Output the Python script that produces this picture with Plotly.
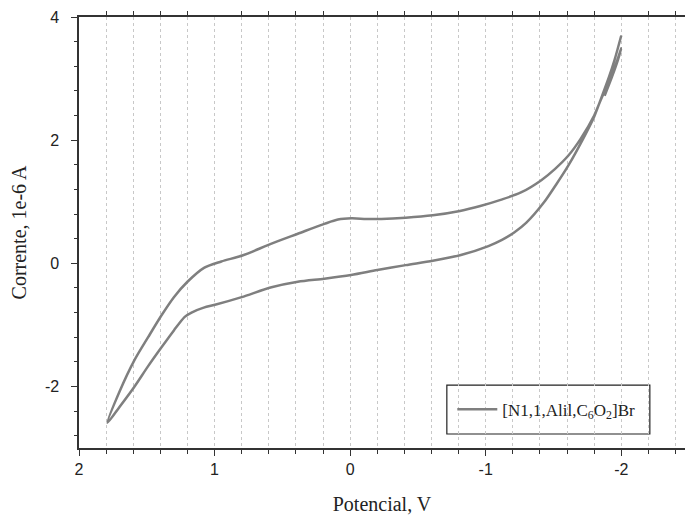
import numpy as np
import plotly.graph_objects as go

# Cyclic voltammogram data (potential V, current 1e-6 A)
stub_x = [-1.877, -1.93, -1.975, -2.0]
stub_y = [2.72, 3.02, 3.30, 3.49]

upper_x = [-1.95, -1.91, -1.85, -1.80, -1.70, -1.61, -1.51, -1.41, -1.26, -1.11, -0.96,
           -0.81, -0.61, -0.41, -0.23, -0.12, -0.01, 0.09, 0.19, 0.386, 0.58, 0.79, 0.95,
           1.075, 1.20, 1.30, 1.39, 1.49, 1.59, 1.70, 1.79]
upper_y = [3.17, 2.95, 2.66, 2.40, 2.02, 1.75, 1.53, 1.35, 1.15, 1.03, 0.93,
           0.85, 0.78, 0.74, 0.72, 0.72, 0.73, 0.71, 0.64, 0.48, 0.32, 0.13, 0.03,
           -0.07, -0.30, -0.55, -0.84, -1.20, -1.57, -2.08, -2.59]

lower_x = [1.70, 1.59, 1.49, 1.39, 1.30, 1.22, 1.17, 1.08, 0.99, 0.80, 0.58, 0.386, 0.19,
           -0.007, -0.20, -0.41, -0.61, -0.81, -1.02, -1.12, -1.21, -1.30, -1.43, -1.52,
           -1.61, -1.73, -1.80, -1.85, -1.91, -1.95, -2.0]
lower_y = [-2.33, -2.0, -1.67, -1.36, -1.09, -0.87, -0.80, -0.72, -0.67, -0.55, -0.39,
           -0.30, -0.25, -0.19, -0.11, -0.03, 0.04, 0.13, 0.28, 0.38, 0.50, 0.66, 0.99,
           1.28, 1.59, 2.07, 2.38, 2.67, 3.03, 3.30, 3.70]

series_name = "[N1,1,Alil,C<sub>6</sub>O<sub>2</sub>]Br"

x_ticks = [2, 1, 0, -1, -2]
x_ticktext = ["2", "1", "0", "-1", "-2"]
y_ticks = [-2, 0, 2, 4]
y_ticktext = ["-2", "0", "2", "4"]
pad = "\u00a0\u00a0"

x_all = stub_x + upper_x + lower_x
y_all = stub_y + upper_y + lower_y

fig = go.Figure()
fig.add_trace(go.Scatter(
    x=x_all, y=y_all, mode="lines", name=series_name,
    line=dict(color="#7f7f7f", width=2.5, shape="spline", smoothing=0.8),
))
# invisible helper trace for the top (minor-tick) axis
fig.add_trace(go.Scatter(x=[0], y=[0], xaxis="x2", mode="markers",
                         marker=dict(opacity=0), showlegend=False, hoverinfo="skip"))

xr = [2, -2.47]
top_ticks = [round(v, 1) for v in np.arange(-2.4, 2.01, 0.2) if abs(v - round(v)) > 1e-6]

axis_font = dict(family="Liberation Sans, Arial", size=16, color="#222")
title_font = dict(family="Liberation Serif, Times New Roman", size=20, color="#222")

fig.update_layout(
    width=685, height=524,
    margin=dict(l=79, r=0, t=17, b=76),
    paper_bgcolor="white", plot_bgcolor="white",
    xaxis=dict(
        range=xr, tickmode="array", tickvals=x_ticks, ticktext=x_ticktext,
        ticks="outside", ticklen=6, tickwidth=1.2,
        tickcolor="#333", showline=True, linecolor="#333", linewidth=1.5,
        showgrid=True, gridcolor="#c8c8c8", griddash="dot", gridwidth=1,
        zeroline=False, tickfont=axis_font,
        title=dict(text="Potencial, V", font=title_font, standoff=20),
        minor=dict(tickmode="linear", dtick=0.2, tick0=0, ticks="outside", ticklen=4,
                   tickcolor="#333", showgrid=True, gridcolor="#c8c8c8",
                   griddash="dot", gridwidth=1),
    ),
    xaxis2=dict(
        overlaying="x", side="top", range=xr, tickmode="array", tickvals=top_ticks,
        ticks="outside", ticklen=4, tickcolor="#333", showticklabels=False,
        showline=True, linecolor="#333", linewidth=1.5, showgrid=False, zeroline=False,
    ),
    yaxis=dict(
        range=[-3, 4], tickmode="array", tickvals=y_ticks,
        ticktext=[t + pad for t in y_ticktext],
        ticks="outside", ticklen=6, tickwidth=1.2,
        tickcolor="#333", showline=True, linecolor="#333", linewidth=1.5,
        showgrid=False, zeroline=False, tickfont=axis_font,
        title=dict(text="Corrente, 1e-6 A", font=title_font, standoff=13),
        minor=dict(tickmode="linear", dtick=0.4, tick0=0, ticks="outside", ticklen=3,
                   tickcolor="#333", showgrid=False),
    ),
    legend=dict(
        x=0.616, y=0.089, xanchor="left", yanchor="middle",
        borderwidth=0, bgcolor="rgba(0,0,0,0)",
        font=dict(family="Liberation Serif, Times New Roman", size=17, color="#222"),
        itemwidth=40,
    ),
    shapes=[dict(type="rect", xref="paper", yref="paper",
                 x0=0.607, x1=0.942, y0=0.0325, y1=0.146,
                 line=dict(color="#222", width=1.2), fillcolor="white", layer="below")],
    showlegend=True,
)

fig.write_html("out.html")
